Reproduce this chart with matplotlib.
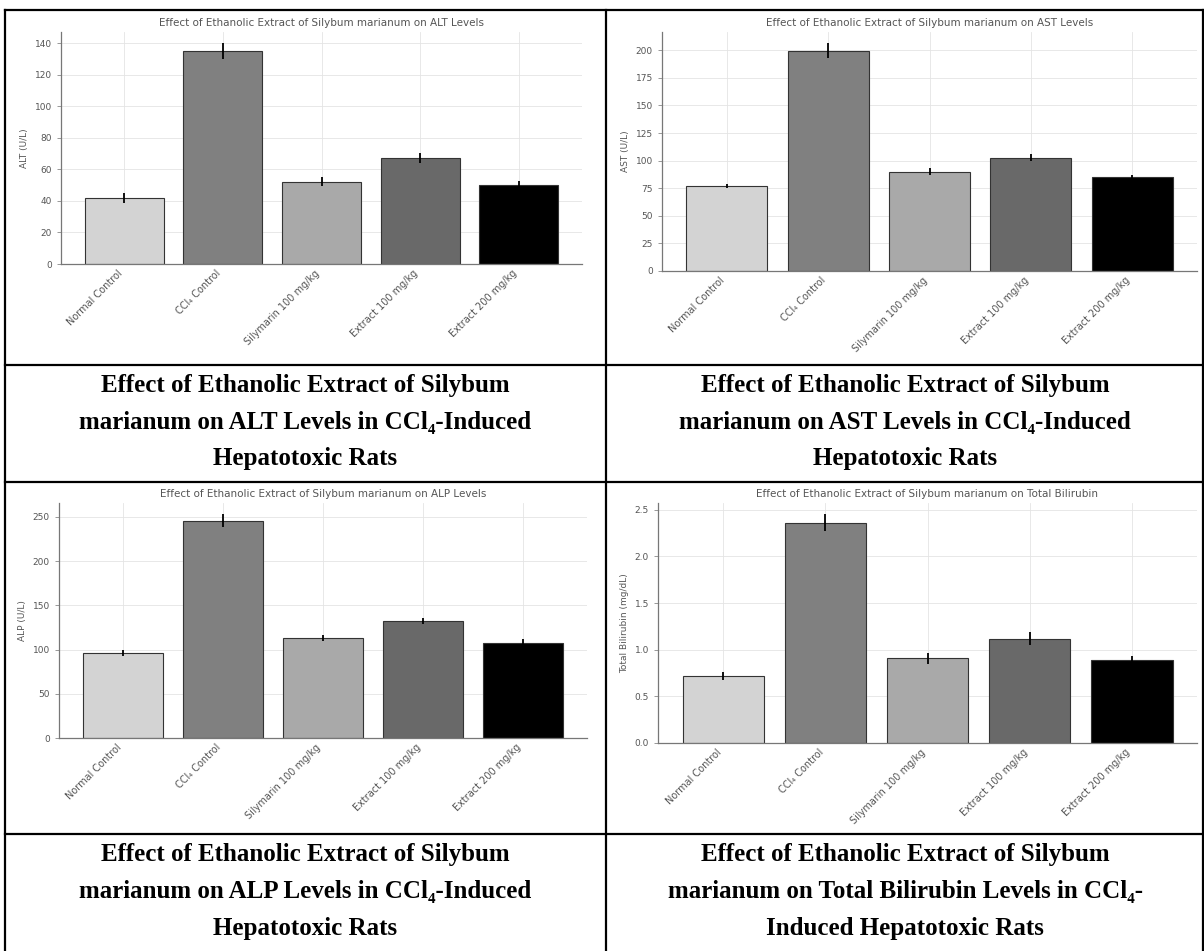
# 肝機能マーカーの棒グラフ（4枚）を表形式で並べる
import numpy as np
import matplotlib
matplotlib.use('Agg')
import matplotlib.pyplot as plt
from matplotlib.lines import Line2D
from matplotlib.ticker import MultipleLocator

# グループ名
groups = ["Normal Control", "CCl₄ Control", "Silymarin 100 mg/kg",
          "Extract 100 mg/kg", "Extract 200 mg/kg"]

# ALT (U/L)
alt_mean = [41.8, 134.8, 52.2, 67.2, 49.9]
alt_err = [2.9, 5.2, 3.0, 3.0, 2.5]

# AST (U/L)
ast_mean = [77.0, 199.7, 90.0, 102.8, 85.0]
ast_err = [2.2, 6.6, 3.3, 3.4, 2.2]

# ALP (U/L)
alp_mean = [96.0, 245.5, 113.0, 132.4, 107.9]
alp_err = [3.3, 7.4, 3.7, 3.7, 3.7]

# Total Bilirubin (mg/dL)
tbil_mean = [0.72, 2.36, 0.91, 1.12, 0.89]
tbil_err = [0.04, 0.09, 0.06, 0.07, 0.04]

# グラフのタイトルと軸ラベル
chart_titles = ["Effect of Ethanolic Extract of Silybum marianum on ALT Levels",
                "Effect of Ethanolic Extract of Silybum marianum on AST Levels",
                "Effect of Ethanolic Extract of Silybum marianum on ALP Levels",
                "Effect of Ethanolic Extract of Silybum marianum on Total Bilirubin"]
y_labels = ["ALT (U/L)", "AST (U/L)", "ALP (U/L)", "Total Bilirubin (mg/dL)"]
y_steps = [20, 25, 50, 0.5]

# 表のキャプション
captions = [
    ["Effect of Ethanolic Extract of Silybum",
     "marianum on ALT Levels in CCl₄-Induced",
     "Hepatotoxic Rats"],
    ["Effect of Ethanolic Extract of Silybum",
     "marianum on AST Levels in CCl₄-Induced",
     "Hepatotoxic Rats"],
    ["Effect of Ethanolic Extract of Silybum",
     "marianum on ALP Levels in CCl₄-Induced",
     "Hepatotoxic Rats"],
    ["Effect of Ethanolic Extract of Silybum",
     "marianum on Total Bilirubin Levels in CCl₄-",
     "Induced Hepatotoxic Rats"],
]

means = [alt_mean, ast_mean, alp_mean, tbil_mean]
errs = [alt_err, ast_err, alp_err, tbil_err]
bar_colors = ['lightgray', 'gray', 'darkgray', 'dimgray', 'black']

W, H = 1204, 951
fig = plt.figure(figsize=(W / 100, H / 100), dpi=100)
fig.patch.set_facecolor('white')


def px_axes(l, t, r, b):
    # ピクセル座標（左上原点）で軸を作る
    return fig.add_axes([l / W, 1 - b / H, (r - l) / W, (b - t) / H])


def hline(y, x0, x1, lw=1.6):
    fig.add_artist(Line2D([x0 / W, x1 / W], [1 - y / H, 1 - y / H],
                          transform=fig.transFigure, color='black', lw=lw))


def vline(x, y0, y1, lw=1.6):
    fig.add_artist(Line2D([x / W, x / W], [1 - y0 / H, 1 - y1 / H],
                          transform=fig.transFigure, color='black', lw=lw))


axes_boxes = [(61, 32, 582, 264), (662, 32, 1197, 271),
              (59, 503, 587, 738), (658, 503, 1197, 743)]

x = np.arange(len(groups))
for i, box in enumerate(axes_boxes):
    ax = px_axes(*box)
    ax.set_axisbelow(True)
    ax.grid(True, color='#e4e4e4', linewidth=0.6)
    ax.bar(x, means[i], width=0.8, color=bar_colors, edgecolor='#333333',
           linewidth=0.8, yerr=errs[i], ecolor='black',
           error_kw={'elinewidth': 1.3, 'capsize': 0})
    ax.yaxis.set_major_locator(MultipleLocator(y_steps[i]))
    ax.set_xticks(x)
    ax.set_xticklabels(groups, rotation=45, ha='right', fontsize=7, color='#555555')
    ax.tick_params(axis='y', labelsize=6.5, labelcolor='#555555', length=3,
                   color='#888888', width=0.6)
    ax.tick_params(axis='x', length=0, pad=3)
    ax.set_ylabel(y_labels[i], fontsize=6.5, color='#555555')
    ax.set_title(chart_titles[i], fontsize=7.5, color='#555555', pad=4)
    for s in ['top', 'right']:
        ax.spines[s].set_visible(False)
    for s in ['left', 'bottom']:
        ax.spines[s].set_color('#777777')
        ax.spines[s].set_linewidth(0.9)

# 表の罫線
hline(10, 5, 1203)
hline(365, 5, 1203)
hline(482, 5, 1203)
hline(834, 5, 1203)
vline(5, 10, 951)
vline(606, 10, 951)
vline(1203, 10, 951)

# キャプション
cap_x = [305, 905, 305, 905]
cap_y0 = [386, 386, 855, 855]
for i in range(4):
    for j, line in enumerate(captions[i]):
        fig.text(cap_x[i] / W, 1 - (cap_y0[i] + j * 36.5) / H, line,
                 ha='center', va='center', fontsize=18, fontweight='bold',
                 family=['Liberation Serif', 'DejaVu Serif'])

fig.savefig('out.png', dpi=100)
